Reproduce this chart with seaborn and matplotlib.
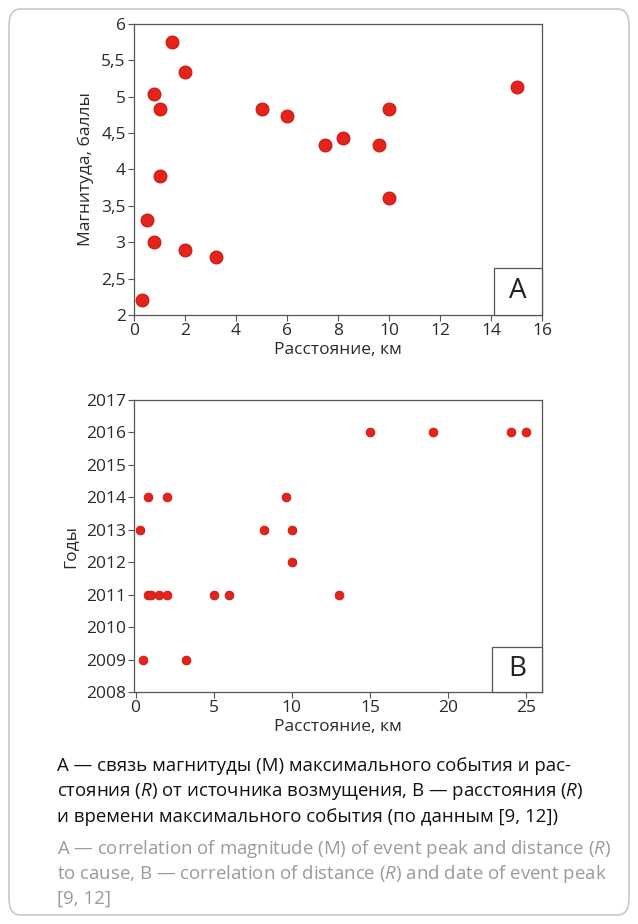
import matplotlib
matplotlib.use("Agg")
import matplotlib.pyplot as plt
from matplotlib.patches import FancyBboxPatch, Rectangle
import pandas as pd
import seaborn as sns

# chart A: distance vs magnitude
dist_a = [1.5, 2.0, 0.8, 1.0, 5.0, 6.0, 7.5, 8.2, 9.6, 10.0, 15.0, 1.0, 10.0, 0.5, 0.8, 2.0, 3.2, 0.3]
magn_a = [5.75, 5.34, 5.04, 4.83, 4.83, 4.73, 4.33, 4.43, 4.33, 4.83, 5.14, 3.91, 3.61, 3.31, 3.0, 2.9, 2.8, 2.2]

# chart B: distance vs year
dist_b = [15, 19, 24, 25, 0.8, 2, 9.6, 0.3, 8.2, 10, 10, 0.8, 1.0, 1.5, 2, 5, 6, 13, 0.5, 3.2]
year_b = [2016, 2016, 2016, 2016, 2014, 2014, 2014, 2013, 2013, 2013, 2012,
          2011, 2011, 2011, 2011, 2011, 2011, 2011, 2009, 2009]

ticks_a_y = [2, 2.5, 3, 3.5, 4, 4.5, 5, 5.5, 6]
ticks_a_x = list(range(0, 17, 2))
ticks_b_y = list(range(2008, 2018))
ticks_b_x = [0, 5, 10, 15, 20, 25]

caption_ru = ["А — связь магнитуды (М) максимального события и рас-",
              "стояния ($R$) от источника возмущения, В — расстояния ($R$)",
              "и времени максимального события (по данным [9, 12])"]
caption_en = ["A — correlation of magnitude (M) of event peak and distance ($R$)",
              "to cause, B — correlation of distance ($R$) and date of event peak",
              "[9, 12]"]

sns.set_style("white")
plt.rcParams['font.family'] = ['Open Sans', 'DejaVu Sans']
plt.rcParams['mathtext.fontset'] = 'custom'
plt.rcParams['mathtext.it'] = 'Open Sans:italic'

df_a = pd.DataFrame({"x": dist_a, "y": magn_a})
df_b = pd.DataFrame({"x": dist_b, "y": year_b})

W, H = 638, 924
fig = plt.figure(figsize=(W / 100, H / 100), dpi=100)

def ax_rect(l, t, r, b):
    return [l / W, 1 - b / H, (r - l) / W, (b - t) / H]

frame = FancyBboxPatch((9 / W, 9 / H), 620 / W, 906 / H,
                       boxstyle="round,pad=0,rounding_size=0.018",
                       transform=fig.transFigure, fill=False,
                       edgecolor="#c8c8c8", linewidth=1.2)
fig.patches.append(frame)

face = "#e5231b"
edge = "#c41a12"
tick_font = 12.5
lab_font = 12.5

def style_axes(ax):
    for s in ax.spines.values():
        s.set_color("#555555")
        s.set_linewidth(0.9)
    ax.tick_params(axis="both", direction="out", length=4, width=0.8,
                   color="#555555", labelsize=tick_font, labelcolor="#2a2a2a",
                   left=True, bottom=True, pad=2)

def label_box(ax, letter, w_px, h_px):
    bbox = ax.get_position()
    wf = w_px / W
    hf = h_px / H
    r = Rectangle((bbox.x1 - wf, bbox.y0), wf, hf, transform=fig.transFigure,
                  facecolor="white", edgecolor="#555555", linewidth=0.9, zorder=5)
    fig.patches.append(r)
    fig.text(bbox.x1 - wf / 2, bbox.y0 + hf / 2, letter, ha="center", va="center",
             fontsize=20, color="#222222", zorder=6)

# chart A
ax1 = fig.add_axes(ax_rect(134, 24, 542, 315))
sns.scatterplot(data=df_a, x="x", y="y", ax=ax1, s=85, color=face,
                edgecolor=edge, linewidth=0.8)
ax1.set_xlim(0, 16)
ax1.set_ylim(2, 6)
ax1.set_xticks(ticks_a_x)
ax1.set_yticks(ticks_a_y)
ax1.set_yticklabels([f"{v:g}".replace(".", ",") for v in ticks_a_y])
ax1.set_xlabel("Расстояние, км", fontsize=lab_font, color="#2a2a2a", labelpad=2)
ax1.set_ylabel("Магнитуда, баллы", fontsize=lab_font, color="#2a2a2a", labelpad=5)
style_axes(ax1)
label_box(ax1, "A", 48, 47)

# chart B
ax2 = fig.add_axes(ax_rect(134, 400, 542, 692))
sns.scatterplot(data=df_b, x="x", y="y", ax=ax2, s=40, color=face,
                edgecolor=edge, linewidth=0.6)
ax2.set_xlim(-0.1, 26)
ax2.set_ylim(2008, 2017)
ax2.set_xticks(ticks_b_x)
ax2.set_yticks(ticks_b_y)
ax2.set_xlabel("Расстояние, км", fontsize=lab_font, color="#2a2a2a", labelpad=2)
ax2.set_ylabel("Годы", fontsize=lab_font, color="#2a2a2a", labelpad=5)
style_axes(ax2)
label_box(ax2, "B", 50, 45)

for i, line in enumerate(caption_ru):
    fig.text(57 / W, 1 - (766 + 25.5 * i) / H, line, ha="left", va="center",
             fontsize=13.4, color="#111111")
for i, line in enumerate(caption_en):
    fig.text(57 / W, 1 - (849 + 25 * i) / H, line, ha="left", va="center",
             fontsize=13.4, color="#9a9a9a")

fig.savefig("out.png", dpi=100)
